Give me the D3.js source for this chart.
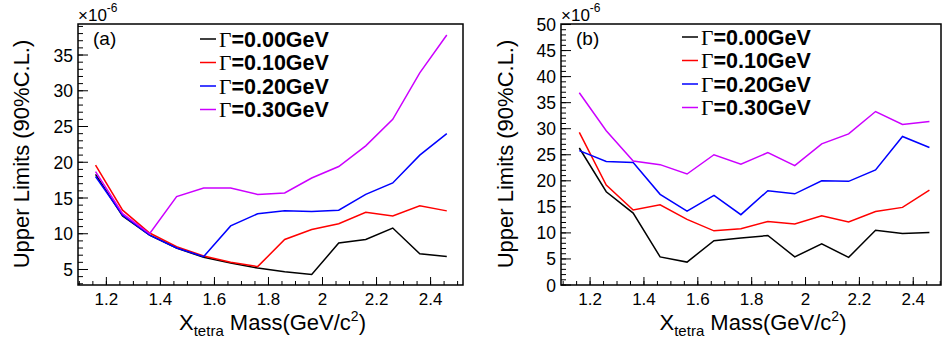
<!DOCTYPE html>
<html><head><meta charset="utf-8">
<script src="https://cdn.jsdelivr.net/npm/d3@7"></script>
<style>
body{margin:0;background:#fff;}
svg{display:block;}
text{font-family:"Liberation Sans",Arial,sans-serif;fill:#000;}
</style></head><body>
<svg id="c" width="943" height="345"></svg>
<script>
const masses = [1.16,1.26,1.36,1.46,1.56,1.66,1.76,1.86,1.96,2.06,2.16,2.26,2.36,2.46];
const widthLabels = ["0.00","0.10","0.20","0.30"];
const colors = ["#000000","#ff0000","#0000ff","#cc00ff"];
// Panel (a) upper limits (x1e-6)
const a_w000 = [18.3,12.5,9.8,8.0,6.7,5.9,5.2,4.7,4.3,8.7,9.2,10.8,7.2,6.8];
const a_w010 = [19.6,13.3,10.1,8.2,6.9,6.0,5.4,9.2,10.6,11.4,13.0,12.5,13.9,13.2];
const a_w020 = [18.0,12.6,9.8,8.0,6.8,11.1,12.8,13.2,13.1,13.3,15.5,17.1,21.0,24.0];
const a_w030 = [18.7,12.8,10.0,15.2,16.4,16.4,15.5,15.7,17.8,19.4,22.3,26.0,32.5,37.8];
// Panel (b) upper limits (x1e-6)
const b_w000 = [26.3,17.9,13.8,5.4,4.4,8.5,9.0,9.5,5.4,7.9,5.3,10.5,9.9,10.1];
const b_w010 = [29.3,19.2,14.4,15.4,12.6,10.4,10.8,12.2,11.7,13.3,12.1,14.1,14.9,18.2];
const b_w020 = [25.8,23.7,23.5,17.4,14.2,17.2,13.5,18.1,17.5,20.0,19.9,22.1,28.5,26.4];
const b_w030 = [36.9,29.6,23.8,23.1,21.3,25.0,23.2,25.4,22.9,27.1,29.0,33.3,30.8,31.4];
const xTicksMajor = [1.2,1.4,1.6,1.8,2.0,2.2,2.4];
const xTickLabels = ["1.2","1.4","1.6","1.8","2","2.2","2.4"];

const svg = d3.select("#c");

function panel(opts){
  const {left,right,top,bottom,xdom,ydom,series,tag,ymajor,legX,legY,ytx} = opts;
  const g = svg.append("g");
  const x = d3.scaleLinear().domain(xdom).range([left,right]);
  const y = d3.scaleLinear().domain(ydom).range([bottom,top]);
  // x ticks (inside)
  const xmin = d3.range(Math.ceil(xdom[0]/0.05)*0.05, xdom[1], 0.05);
  g.selectAll(".xm").data(xmin).join("line")
    .attr("x1",d=>x(d)).attr("x2",d=>x(d))
    .attr("y1",bottom).attr("y2",bottom-4).attr("stroke","#000").attr("stroke-width",1);
  g.selectAll(".xM").data(xTicksMajor).join("line")
    .attr("x1",d=>x(d)).attr("x2",d=>x(d))
    .attr("y1",bottom).attr("y2",bottom-8).attr("stroke","#000").attr("stroke-width",1);
  g.selectAll(".xl").data(xTicksMajor).join("text")
    .attr("x",d=>x(d)).attr("y",bottom+20).attr("text-anchor","middle")
    .attr("font-size",17).text((d,i)=>xTickLabels[i]);
  // y ticks
  const ymin = d3.range(Math.ceil(ydom[0]), ydom[1]+0.001, 1);
  g.selectAll(".ym").data(ymin).join("line")
    .attr("x1",left).attr("x2",left+5)
    .attr("y1",d=>y(d)).attr("y2",d=>y(d)).attr("stroke","#000").attr("stroke-width",1);
  g.selectAll(".yM").data(ymajor).join("line")
    .attr("x1",left).attr("x2",left+10)
    .attr("y1",d=>y(d)).attr("y2",d=>y(d)).attr("stroke","#000").attr("stroke-width",1);
  g.selectAll(".yl").data(ymajor).join("text")
    .attr("x",left-5).attr("y",d=>y(d)+6.5).attr("text-anchor","end")
    .attr("font-size",17.5).text(d=>d);
  // exponent
  const ex = g.append("text").attr("x",left).attr("y",21).attr("font-size",17);
  ex.append("tspan").text("×10");
  ex.append("tspan").attr("font-size",12).attr("dy",-9).text("-6");
  // lines
  const line = d3.line().x((d,i)=>x(masses[i])).y(d=>y(d));
  series.forEach((s,k)=>{
    g.append("path").datum(s).attr("d",line).attr("fill","none")
      .attr("stroke",colors[k]).attr("stroke-width",1.5).attr("stroke-linejoin","miter");
  });
  // frame
  g.append("rect").attr("x",left).attr("y",top).attr("width",right-left).attr("height",bottom-top)
    .attr("fill","none").attr("stroke","#000").attr("stroke-width",1.5);
  // tag
  g.append("text").attr("x",left+15).attr("y",45).attr("font-size",19).text(tag);
  // legend
  widthLabels.forEach((w,k)=>{
    const yy = legY + k*23.5;
    g.append("line").attr("x1",legX).attr("x2",legX+16).attr("y1",yy).attr("y2",yy)
      .attr("stroke",colors[k]).attr("stroke-width",1.5);
    const t = g.append("text").attr("x",legX+19).attr("y",yy+7.5).attr("font-size",21.5);
    t.append("tspan").attr("font-family","'Liberation Serif','Times New Roman',serif").text("Γ");
    t.append("tspan").attr("font-weight","bold").text("="+w+"GeV");
  });
  // axis titles
  const xt = g.append("text").attr("x",(left+right)/2+2).attr("y",330).attr("text-anchor","middle").attr("font-size",22);
  xt.append("tspan").text("X");
  xt.append("tspan").attr("font-size",15).attr("dy",6).text("tetra");
  xt.append("tspan").attr("dy",-6).text(" Mass(GeV/c");
  xt.append("tspan").attr("font-size",14).attr("dy",-9).text("2");
  xt.append("tspan").attr("dy",9).text(")");
  g.append("text").attr("transform",`translate(${ytx},154) rotate(-90)`)
    .attr("text-anchor","middle").attr("font-size",22).text("Upper Limits (90%C.L.)");
}

panel({left:78,right:463,top:24,bottom:285,xdom:[1.095,2.52],ydom:[2.83,39.34],
  series:[a_w000,a_w010,a_w020,a_w030],tag:"(a)",ymajor:[5,10,15,20,25,30,35],legX:200,legY:39,ytx:29});
panel({left:561,right:941,top:24,bottom:285,xdom:[1.092,2.503],ydom:[0,50.1],
  series:[b_w000,b_w010,b_w020,b_w030],tag:"(b)",ymajor:[0,5,10,15,20,25,30,35,40,45,50],legX:682,legY:37,ytx:513});
</script></body></html>
